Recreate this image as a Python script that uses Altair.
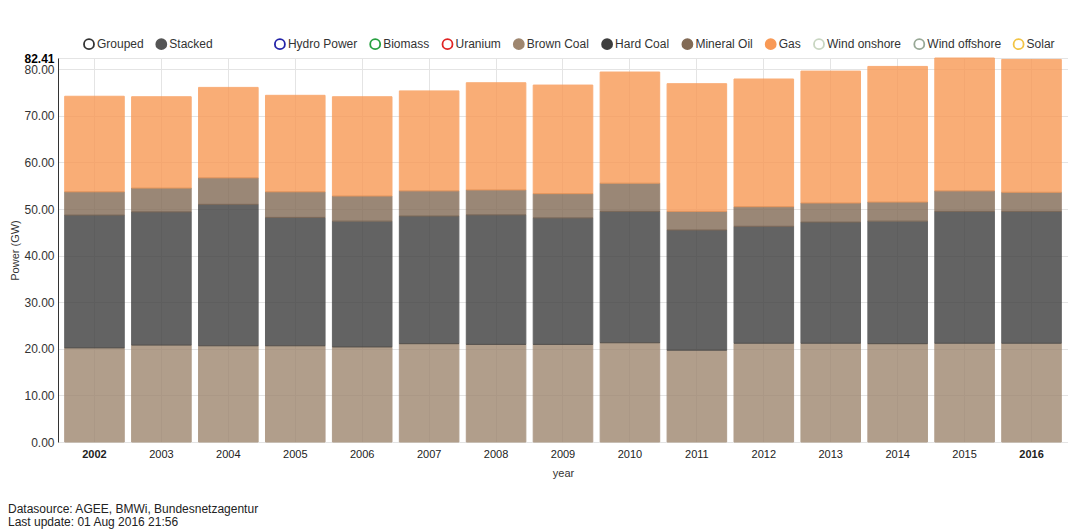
import altair as alt
import pandas as pd

years = ["2002", "2003", "2004", "2005", "2006", "2007", "2008", "2009",
         "2010", "2011", "2012", "2013", "2014", "2015", "2016"]

# Stacked power values (GW), bottom to top
brown_coal = [20.2, 20.8, 20.65, 20.65, 20.4, 21.1, 20.95, 20.95, 21.3, 19.7, 21.2, 21.2, 21.1, 21.2, 21.2]
hard_coal = [28.5, 28.6, 30.35, 27.55, 27.0, 27.4, 27.8, 27.15, 28.2, 25.8, 25.1, 26.0, 26.3, 28.3, 28.3]
mineral_oil = [5.0, 5.1, 5.7, 5.5, 5.4, 5.4, 5.35, 5.2, 6.05, 4.0, 4.2, 4.1, 4.1, 4.4, 4.1]
gas = [20.5, 19.6, 19.4, 20.7, 21.3, 21.45, 23.0, 23.3, 23.85, 27.4, 27.4, 28.3, 29.1, 28.51, 28.5]

series = {"Brown Coal": brown_coal, "Hard Coal": hard_coal,
          "Mineral Oil": mineral_oil, "Gas": gas}
stack_names = ["Brown Coal", "Hard Coal", "Mineral Oil", "Gas"]

SPACER = "xxxx"  # invisible gap entry between the mode toggles and the series
legend_names = ["Grouped", "Stacked", SPACER, "Hydro Power", "Biomass", "Uranium",
                "Brown Coal", "Hard Coal", "Mineral Oil", "Gas",
                "Wind onshore", "Wind offshore", "Solar"]
fill_colors = ["#ffffff", "#555555", "transparent", "#ffffff", "#ffffff", "#ffffff",
               "#9e866f", "#3d3d3d", "#826a55", "#f89955",
               "#ffffff", "#ffffff", "#ffffff"]
stroke_colors = ["#333333", "#555555", "transparent", "#2323a8", "#27a040", "#e02424",
                 "#9e866f", "#3d3d3d", "#826a55", "#f89955",
                 "#c9d6c2", "#98a896", "#f2c445"]

rows = []
for name in stack_names:
    for i, y in enumerate(years):
        rows.append({"year": y, "source": name, "value": series[name][i],
                     "stack_order": stack_names.index(name)})
df = pd.DataFrame(rows)

FONT = "Liberation Sans"
y_ticks = [0, 10, 20, 30, 40, 50, 60, 70, 80, 82.41]

legend = alt.Legend(
    title=None, orient="none", legendX=25, legendY=-20, direction="horizontal",
    symbolType="circle", symbolSize=100, symbolStrokeWidth=1.8, symbolOpacity=1,
    labelFont=FONT, labelFontSize=12, labelOffset=2,
    labelColor={"expr": f"datum.value == '{SPACER}' ? 'transparent' : '#333333'"},
    columnPadding=8.3, padding=0, labelLimit=300,
)

chart = alt.Chart(df).mark_bar(opacity=0.8).encode(
    x=alt.X("year:N", sort=years,
            scale=alt.Scale(paddingInner=0.11, paddingOuter=0.1),
            axis=alt.Axis(title="year", labelAngle=0, ticks=False, domain=False,
                          grid=True, bandPosition=0.5, gridColor="#e4e4e4",
                          labelFont=FONT, labelFontSize=11, labelColor="#222222",
                          labelPadding=6,
                          labelFontWeight={"expr": "datum.value == '2002' || datum.value == '2016' ? 'bold' : 'normal'"},
                          titleFont=FONT, titleFontSize=11, titleFontWeight="normal",
                          titleColor="#333333", titlePadding=8)),
    y=alt.Y("value:Q", stack="zero",
            scale=alt.Scale(domain=[0, 82.41], nice=False),
            axis=alt.Axis(title="Power (GW)", values=y_ticks, format=".2f",
                          labelOverlap=False, ticks=False, domain=True,
                          domainColor="#333333", domainWidth=1,
                          gridColor="#e4e4e4",
                          labelFont=FONT, labelFontSize=12, labelPadding=4,
                          labelColor={"expr": "datum.value > 82 ? '#000000' : '#333333'"},
                          labelFontWeight={"expr": "datum.value > 82 ? 'bold' : 'normal'"},
                          titleFont=FONT, titleFontSize=11, titleFontWeight="normal",
                          titleColor="#333333", titlePadding=3)),
    fill=alt.Fill("source:N", scale=alt.Scale(domain=legend_names, range=fill_colors),
                  legend=legend),
    stroke=alt.Stroke("source:N", scale=alt.Scale(domain=legend_names, range=stroke_colors),
                      legend=legend),
    order=alt.Order("stack_order:Q"),
).properties(
    width=1010, height=384,
    autosize="none",
    padding={"left": 50, "top": 50, "right": 0, "bottom": 88},
    title=alt.TitleParams(
        text="Datasource: AGEE, BMWi, Bundesnetzagentur",
        subtitle="Last update: 01 Aug 2016 21:56",
        orient="bottom", anchor="start", frame="group", dx=-50,
        font=FONT, fontSize=12, fontWeight="normal", color="#222222",
        subtitleFont=FONT, subtitleFontSize=12, subtitleColor="#222222",
        subtitlePadding=1, offset=26,
    ),
).configure_view(stroke=None)

chart.save("out.html", embed_options={"renderer": "svg", "actions": False})
